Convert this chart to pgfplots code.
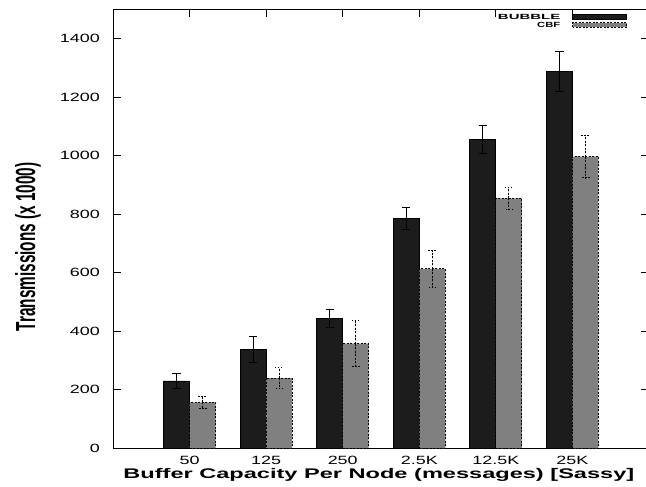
\documentclass[border=0pt]{standalone}
\usepackage{pgfplots}
\pgfplotsset{compat=1.18}
\usepackage{pgfplotstable}
\usepackage{graphicx}
\usepackage{fontspec}
\setmainfont{Liberation Sans}

\definecolor{bubblefill}{HTML}{1C1C1C}
\definecolor{cbffill}{HTML}{808080}

% mean transmissions (x 1000) and error half-widths per buffer capacity
\pgfplotstableread{
x bubble bubbleerr cbf cbferr
0 230 25 157 21
1 338 45 240 35
2 444 31 358 78
3 786 37 613 62
4 1056 48 854 38
5 1288 67 997 72
}\transmissions

\begin{document}
\begin{tikzpicture}
\begin{axis}[
  at={(0,0)}, anchor=south west,
  scale only axis, width=536bp, height=439bp,
  xmin=-1, xmax=6, ymin=0, ymax=1500,
  ybar=0pt, bar width=26bp,
  axis line style={line width=0.8bp},
  tick align=inside,
  major tick length=8bp,
  tick style={line width=0.8bp, black},
  xtick={0,...,5},
  xticklabels={\scalebox{1.5}[1]{50},\scalebox{1.5}[1]{125},\scalebox{1.5}[1]{250},
               \scalebox{1.5}[1]{2.5K},\scalebox{1.5}[1]{12.5K},\scalebox{1.5}[1]{25K}},
  ytick={0,200,...,1400},
  yticklabel={\scalebox{1.5}[1]{\pgfmathprintnumber[assume math mode=true,1000 sep={}]{\tick}}},
  xticklabel style={font=\fontsize{12}{12}\selectfont, inner sep=0pt, anchor=north, yshift=-7.5bp},
  yticklabel style={font=\fontsize{12}{12}\selectfont, inner sep=0pt, anchor=east, xshift=-13bp},
  xlabel={\scalebox{1.69}[1]{Buffer Capacity Per Node (messages) [Sassy]}},
  xlabel style={font=\bfseries\fontsize{14}{14}\selectfont, inner sep=0pt,
                at={(axis description cs:0.496,-0.045)}, anchor=north},
  ylabel={\scalebox{1}[1.8]{Transmissions (x 1000)}},
  ylabel style={font=\bfseries\fontsize{15.4}{16}\selectfont, inner sep=0pt,
                at={(axis description cs:-0.1828,0.459)}, anchor=north},
  legend cell align=right,
  legend plot pos=right,
  legend image code/.code={\draw[#1] (0bp,-2.3bp) rectangle (54bp,2.3bp);},
  legend style={at={(axis description cs:0.959,0.9893)}, anchor=north east,
                draw=none, fill=none, inner sep=0pt, outer sep=0pt,
                font=\bfseries\fontsize{7.5}{8}\selectfont,
                row sep=3bp,
                nodes={inner sep=0pt, text height=5.4bp, text depth=0pt},
                /tikz/every odd column/.append style={column sep=12bp}},
]
\addplot[draw=black, line width=0.8bp, fill=bubblefill,
  error bars/y dir=both, error bars/y explicit,
  error bars/error bar style={black, line width=0.8bp, solid},
  error bars/error mark options={black, mark size=4.2bp, line width=0.8bp, solid, rotate=90}]
  table[x=x, y=bubble, y error=bubbleerr] {\transmissions};
\addlegendentry{\scalebox{2.0}[1]{BUBBLE}}
\addplot[draw=black, line width=0.8bp, dash pattern=on 2bp off 1.5bp, fill=cbffill,
  error bars/y dir=both, error bars/y explicit,
  error bars/error bar style={black, line width=0.8bp, dash pattern=on 2bp off 1.5bp},
  error bars/error mark options={black, mark size=4.2bp, line width=0.8bp, dash pattern=on 1.5bp off 1.5bp, rotate=90}]
  table[x=x, y=cbf, y error=cbferr] {\transmissions};
\addlegendentry{\scalebox{1.5}[1]{CBF}}
\end{axis}
\pgfresetboundingbox
\useasboundingbox (-113bp,-38.7bp) rectangle (533bp,448.3bp);
\end{tikzpicture}
\end{document}
